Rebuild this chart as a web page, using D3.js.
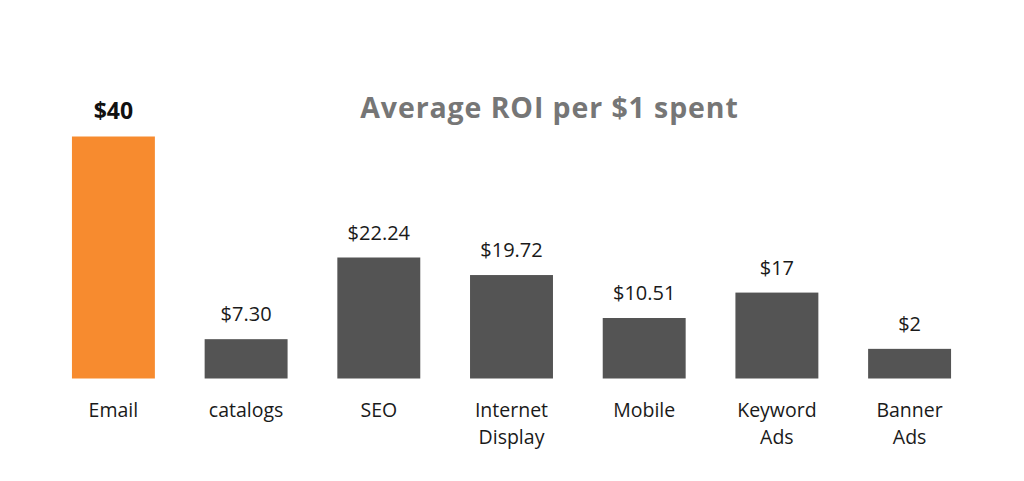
<!DOCTYPE html>
<html>
<head>
<meta charset="utf-8">
<script src="https://cdn.jsdelivr.net/npm/d3@7"></script>
<style>
  body { margin: 0; background: #fff; }
  svg { display: block; }
</style>
</head>
<body>
<svg id="chart"></svg>
<script>
const width = 1024, height = 481;

// channels, with the label lines under each bar
const channels = ["Email", "catalogs", "SEO", "Internet Display", "Mobile", "Keyword Ads", "Banner Ads"];
const categoryLines = [["Email"], ["catalogs"], ["SEO"], ["Internet", "Display"], ["Mobile"], ["Keyword", "Ads"], ["Banner", "Ads"]];
// value labels as printed above the bars
const valueLabels = ["$40", "$7.30", "$22.24", "$19.72", "$10.51", "$17", "$2"];
// bar lengths as drawn in the picture (same units as the $40 bar)
const barValues = [40, 6.5, 20.0, 17.1, 10.0, 14.2, 4.9];

const margin = { left: 47, right: 48, top: 136.5, bottom: 102.5 };
const font = "'Open Sans', sans-serif";

const svg = d3.select("#chart").attr("width", width).attr("height", height);

const x = d3.scaleBand()
  .domain(channels)
  .range([margin.left, width - margin.right])
  .paddingInner(0.375)
  .paddingOuter(0.188);

const y = d3.scaleLinear()
  .domain([0, 40])
  .range([height - margin.bottom, margin.top]);

// title
svg.append("text")
  .attr("x", 549.5)
  .attr("y", 118)
  .attr("text-anchor", "middle")
  .attr("font-family", font)
  .attr("font-weight", "bold")
  .attr("font-size", 28.5)
  .attr("letter-spacing", 0.9)
  .attr("fill", "#767676")
  .text("Average ROI per $1 spent");

const g = svg.append("g");

g.selectAll("rect")
  .data(channels)
  .join("rect")
  .attr("x", d => x(d))
  .attr("width", x.bandwidth())
  .attr("y", (d, i) => y(barValues[i]))
  .attr("height", (d, i) => y(0) - y(barValues[i]))
  .attr("fill", (d, i) => i === 0 ? "#f78b2f" : "#545454");

g.selectAll("text.value")
  .data(channels)
  .join("text")
  .attr("class", "value")
  .attr("x", d => x(d) + x.bandwidth() / 2)
  .attr("y", (d, i) => y(barValues[i]) - 18)
  .attr("text-anchor", "middle")
  .attr("font-family", font)
  .attr("font-weight", (d, i) => i === 0 ? "bold" : "normal")
  .attr("font-size", (d, i) => i === 0 ? 23 : 20)
  .attr("fill", (d, i) => i === 0 ? "#111" : "#1a1a1a")
  .text((d, i) => valueLabels[i]);

const cat = g.selectAll("text.cat")
  .data(channels)
  .join("text")
  .attr("class", "cat")
  .attr("x", d => x(d) + x.bandwidth() / 2)
  .attr("y", 417)
  .attr("text-anchor", "middle")
  .attr("font-family", font)
  .attr("font-size", 19.5)
  .attr("fill", "#1a1a1a");

cat.selectAll("tspan")
  .data((d, i) => categoryLines[i])
  .join("tspan")
  .attr("x", function () { return this.parentNode.getAttribute("x"); })
  .attr("dy", (d, j) => j === 0 ? 0 : 27)
  .text(d => d);
</script>
</body>
</html>
